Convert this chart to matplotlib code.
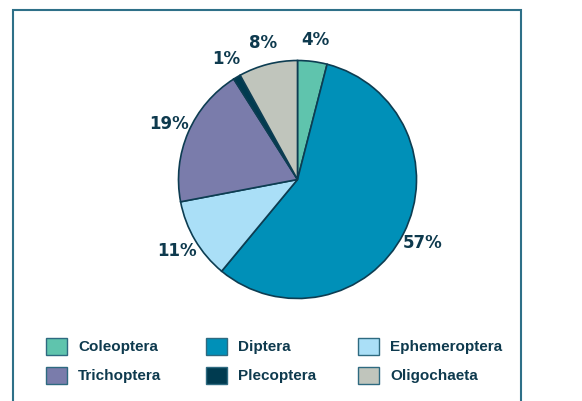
import matplotlib.pyplot as plt
from matplotlib.patches import Patch, Rectangle

# Share of each group (%)
groups = ['Coleoptera', 'Diptera', 'Ephemeroptera', 'Trichoptera', 'Plecoptera', 'Oligochaeta']
shares = [4, 57, 11, 19, 1, 8]
colors = ['#5fc4ad', '#0090b8', '#aadff7', '#7a7cab', '#003b50', '#c0c5bc']

edge = '#0d3d52'
text_col = '#0e3a4e'
W, H = 582, 401

fig = plt.figure(figsize=(W / 100, H / 100), dpi=100)
# pie centre ~ (297, 180) px, radius ~ 119 px
ax = fig.add_axes([(297.5 - 119) / W, 1 - (179.5 + 119) / H, 238 / W, 238 / H])

wedges, texts = ax.pie(
    shares, colors=colors, startangle=90, counterclock=False,
    wedgeprops=dict(edgecolor=edge, linewidth=1.2),
    labels=[f'{v}%' for v in shares], labeldistance=1.18,
    textprops=dict(color=text_col, fontsize=12, fontweight='bold'),
)
for t in texts:
    t.set_ha('center')
    t.set_va('center')
ax.set_xlim(-1, 1)
ax.set_ylim(-1, 1)
ax.set_aspect('equal')

# frame around the figure
fig.patches.append(Rectangle((13 / W, -0.02), (521 - 13) / W, 1 - 10 / H + 0.02,
                             transform=fig.transFigure, fill=False,
                             edgecolor='#2e7088', linewidth=1.5))

# legend: three columns, two rows, filled row-wise
col_x = [46, 206, 358]
for c in range(3):
    idx = [c, c + 3]
    handles = [Patch(facecolor=colors[i], edgecolor='#2e6a80', linewidth=1.0) for i in idx]
    fig.legend(handles, [groups[i] for i in idx], loc='upper left',
               bbox_to_anchor=(col_x[c] / W, 1 - 338 / H),
               frameon=False, borderpad=0, borderaxespad=0,
               handlelength=1.35, handleheight=1.3, handletextpad=0.75,
               labelspacing=0.8,
               prop=dict(family=['Liberation Sans', 'DejaVu Sans'], weight='bold', size=11),
               labelcolor=text_col)

fig.savefig('out.png', dpi=100)
